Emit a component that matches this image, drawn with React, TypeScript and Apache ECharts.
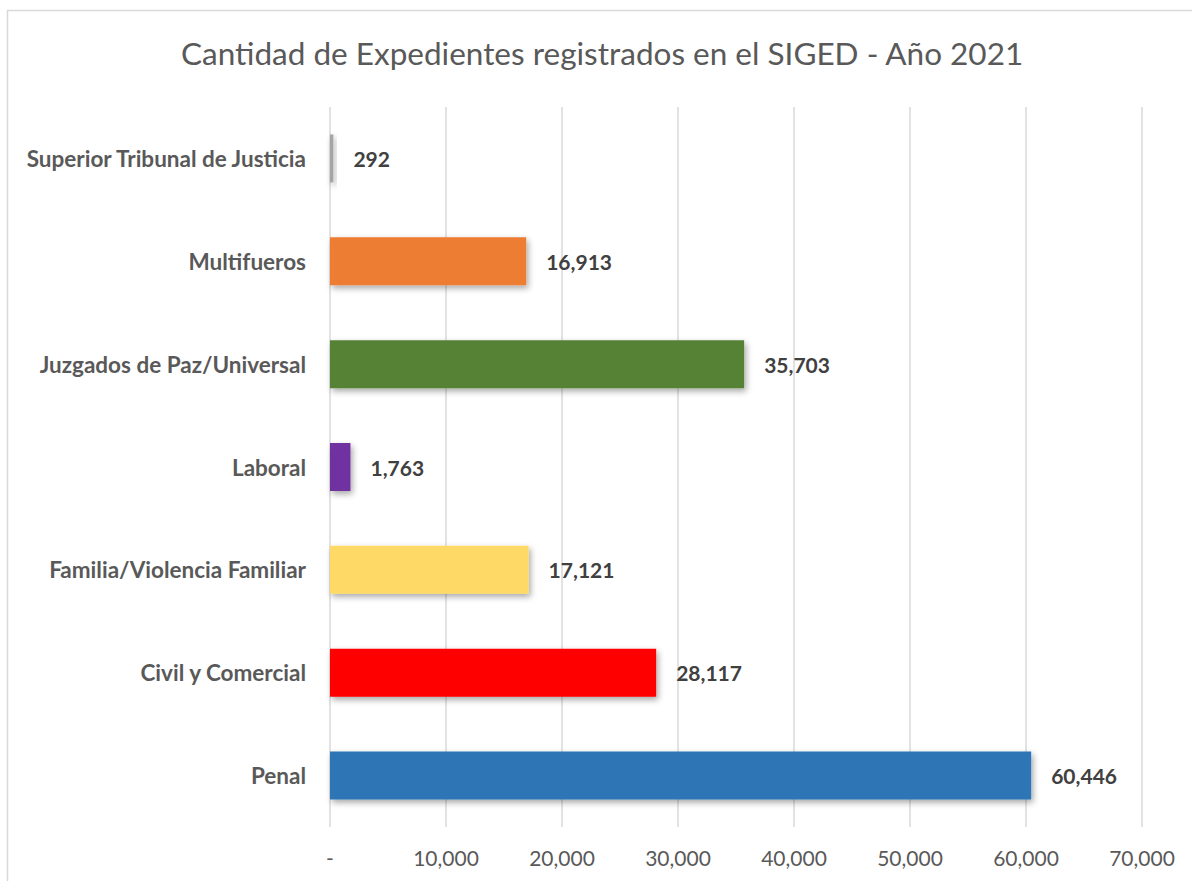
import React, { useEffect, useRef } from "react";
import * as echarts from "echarts";

const categories = [
  "Penal",
  "Civil y Comercial",
  "Familia/Violencia Familiar",
  "Laboral",
  "Juzgados de Paz/Universal",
  "Multifueros",
  "Superior Tribunal de Justicia",
];
const values = [60446, 28117, 17121, 1763, 35703, 16913, 292];
const barColors = ["#2e75b6", "#ff0000", "#ffd966", "#7030a0", "#548235", "#ed7d31", "#a5a5a5"];
const axisMax = 70000;
const axisStep = 10000;

const FONT = "Lato, 'Noto Sans', sans-serif";

function fmt(v: number) {
  return v.toLocaleString("en-US");
}

export default function App() {
  const ref = useRef<HTMLDivElement>(null);
  useEffect(() => {
    const chart = echarts.init(ref.current!, null, { renderer: "svg" });
    chart.setOption({
      animation: false,
      backgroundColor: "#ffffff",
      title: {
        text: "Cantidad de Expedientes registrados en el SIGED - Año 2021",
        left: 176,
        top: 32,
        textStyle: { fontFamily: FONT, fontSize: 31.5, fontWeight: "normal", color: "#595959" },
      },
      graphic: [
        {
          type: "rect",
          shape: { x: 7.5, y: 10.5, width: 1300, height: 1000 },
          style: { fill: "none", stroke: "#d9d9d9", lineWidth: 1.5 },
          silent: true,
          z: -10,
        },
      ],
      grid: { left: 330, right: 50, top: 107, bottom: 54, containLabel: false },
      xAxis: {
        type: "value",
        min: 0,
        max: axisMax,
        interval: axisStep,
        axisLine: { show: false },
        axisTick: { show: false },
        splitLine: { show: true, lineStyle: { color: "#d9d9d9", width: 1.5 } },
        axisLabel: {
          fontFamily: FONT,
          fontSize: 21,
          color: "#595959",
          margin: 20,
          formatter: (v: number) => (v === 0 ? "-" : fmt(v)),
        },
      },
      yAxis: {
        type: "category",
        data: categories,
        axisLine: { show: false },
        axisTick: { show: false },
        axisLabel: {
          fontFamily: FONT,
          fontSize: 22.5,
          fontWeight: "bold",
          color: "#595959",
          margin: 24,
        },
      },
      series: [
        {
          type: "bar",
          barWidth: 48,
          data: values.map((v, i) => ({
            value: v,
            itemStyle: {
              color: barColors[i],
              shadowColor: "rgba(0,0,0,0.35)",
              shadowBlur: 6,
              shadowOffsetX: 2,
              shadowOffsetY: 3,
            },
          })),
          label: {
            show: true,
            position: "right",
            distance: 20,
            fontFamily: FONT,
            fontSize: 21,
            fontWeight: "bold",
            color: "#404040",
            formatter: (p: any) => fmt(p.value),
          },
        },
      ],
    });
    return () => chart.dispose();
  }, []);
  return (
    <div
      ref={ref}
      style={{ position: "absolute", left: 0, top: 0, width: 1192, height: 881 }}
    />
  );
}
